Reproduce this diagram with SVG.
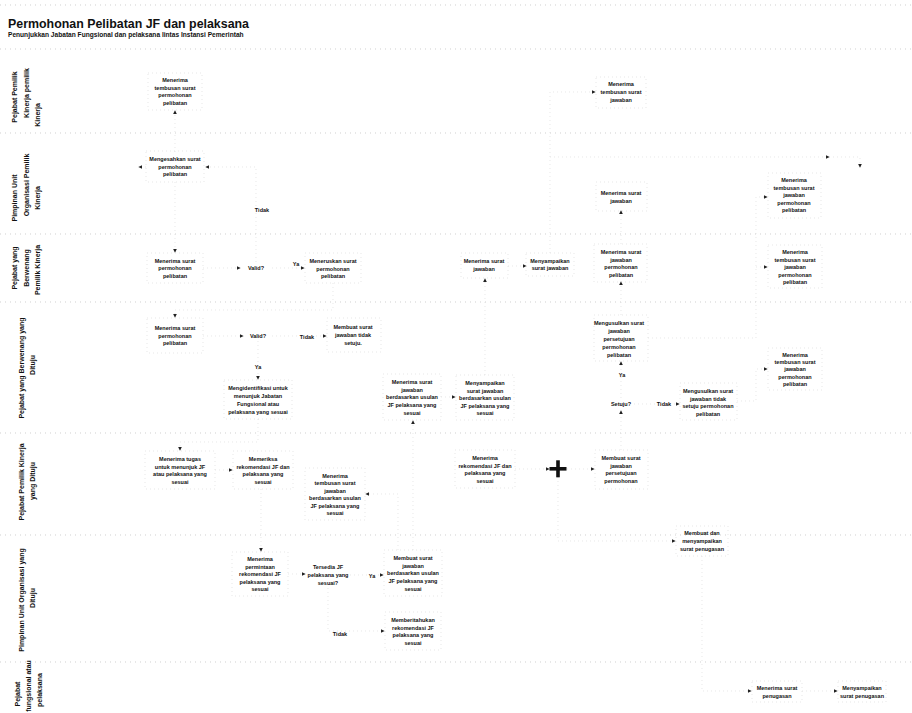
<svg xmlns="http://www.w3.org/2000/svg" width="912" height="713" viewBox="0 0 912 713">
<style>
text{font-family:"Liberation Sans",Arial,sans-serif;font-weight:bold;fill:#111}
.t{font-size:5.5px;text-anchor:middle}
.lbl{font-size:5.5px;text-anchor:middle}
.lane{font-size:7px;text-anchor:middle}
.sep{stroke:#bcbcbc;stroke-width:0.7;stroke-dasharray:1 4;fill:none}
.box{fill:none;stroke:#d6d6d6;stroke-width:0.6;stroke-dasharray:1 3}
.c{fill:none;stroke:#d8d8d8;stroke-width:0.6;stroke-dasharray:1 3;marker-end:url(#ah)}
</style>
<defs>
<marker id="ah" viewBox="0 0 6 6" refX="5" refY="3" markerWidth="4" markerHeight="4" markerUnits="userSpaceOnUse" orient="auto"><path d="M0,0 L6,3 L0,6 z" fill="#222"/></marker>
</defs>
<rect width="912" height="713" fill="#fff"/>
<g id="header">
<text x="8" y="27.5" font-size="12.4">Permohonan Pelibatan JF dan pelaksana</text>
<text x="8" y="37" font-size="6.6">Penunjukkan Jabatan Fungsional dan pelaksana lintas Instansi Pemerintah</text>
</g>
<g id="lanes">
<line class="sep" x1="0" y1="5" x2="912" y2="5"/>
<line class="sep" x1="0" y1="49" x2="912" y2="49"/>
<line class="sep" x1="0" y1="133" x2="912" y2="133"/>
<line class="sep" x1="0" y1="234" x2="912" y2="234"/>
<line class="sep" x1="0" y1="302" x2="912" y2="302"/>
<line class="sep" x1="0" y1="433" x2="912" y2="433"/>
<line class="sep" x1="0" y1="535" x2="912" y2="535"/>
<line class="sep" x1="0" y1="662" x2="912" y2="662"/>
<g id="lane1"><text class="lane" transform="translate(17,97) rotate(-90)">Pejabat Pemilik</text><text class="lane" transform="translate(29,93) rotate(-90)">Kinerja pemilik</text><text class="lane" transform="translate(40,115) rotate(-90)">Kinerja</text></g>
<g id="lane2"><text class="lane" transform="translate(17,198) rotate(-90)">Pimpinan Unit</text><text class="lane" transform="translate(29,185) rotate(-90)">Organisasi Pemilik</text><text class="lane" transform="translate(40,198) rotate(-90)">Kinerja</text></g>
<g id="lane3"><text class="lane" transform="translate(17,268) rotate(-90)">Pejabat yang</text><text class="lane" transform="translate(29,268) rotate(-90)">Berwenang</text><text class="lane" transform="translate(40,270) rotate(-90)">Pemilik Kinerja</text></g>
<g id="lane4"><text class="lane" transform="translate(24,368) rotate(-90)">Pejabat yang Berwenang yang</text><text class="lane" transform="translate(35,365) rotate(-90)">Dituju</text></g>
<g id="lane5"><text class="lane" transform="translate(24,482) rotate(-90)">Pejabat Pemilik Kinerja</text><text class="lane" transform="translate(35,481) rotate(-90)">yang Dituju</text></g>
<g id="lane6"><text class="lane" transform="translate(24,600) rotate(-90)">Pimpinan Unit Organisasi yang</text><text class="lane" transform="translate(35,598) rotate(-90)">Dituju</text></g>
<g id="lane7"><text class="lane" transform="translate(20,694) rotate(-90)">Pejabat</text><text class="lane" font-size="6.6" transform="translate(31,686) rotate(-90)">fungsional atau</text><text class="lane" transform="translate(42,690) rotate(-90)">pelaksana</text></g>
</g>
<g id="connectors">
<path class="c" d="M175 152 V111"/>
<path class="c" d="M146 167 H139"/>
<path class="c" d="M175 182 V252"/>
<path class="c" d="M203 268 H240"/>
<path class="c" d="M272 268 H304"/>
<path class="c" d="M256 262 V167 H206"/>
<path class="c" d="M333 283 V310 H175 V317"/>
<path class="c" d="M203 336 H243"/>
<path class="c" d="M272 336 H326"/>
<path class="c" d="M258 341 V379"/>
<path class="c" d="M258 419 V442 H180 V450"/>
<path class="c" d="M215 470 H232"/>
<path class="c" d="M261 489 V551"/>
<path class="c" d="M288 574 H305"/>
<path class="c" d="M350 575 H383"/>
<path class="c" d="M328 588 V631 H384"/>
<path class="c" d="M413 550 V421"/>
<path class="c" d="M398 550 V494 H366"/>
<path class="c" d="M441 397 H455"/>
<path class="c" d="M485 375 V279"/>
<path class="c" d="M508 266 H526"/>
<path class="c" d="M550 253 V157 H829"/>
<path class="c" d="M550 157 V92 H595"/>
<path class="c" d="M515 469 H549"/>
<path class="c" d="M567 469 H594"/>
<path class="c" d="M558 477 V541 H675"/>
<path class="c" d="M621 450 V411"/>
<path class="c" d="M621 398 V362"/>
<path class="c" d="M634 404 H679"/>
<path class="c" d="M621 315 V282"/>
<path class="c" d="M621 244 V211"/>
<path class="c" d="M648 338 H756 V197 H767"/>
<path class="c" d="M756 267 H767"/>
<path class="c" d="M737 401 H756 V369 H767"/>
<path class="c" d="M829 157 H860 V167"/>
<path class="c" d="M702 556 V691 H751"/>
<path class="c" d="M802 691 H837"/>
</g>
<g id="n1"><rect class="box" x="148" y="73" width="54" height="37"/><text class="t" x="175" y="82">Menerima<tspan x="175" dy="7.5">tembusan surat</tspan><tspan x="175" dy="7.5">permohonan</tspan><tspan x="175" dy="7.5">pelibatan</tspan></text></g>
<g id="n2"><rect class="box" x="596" y="77" width="50" height="31"/><text class="t" x="621" y="86">Menerima<tspan x="621" dy="7.8">tembusan surat</tspan><tspan x="621" dy="7.8">jawaban</tspan></text></g>
<g id="n3"><rect class="box" x="146" y="151" width="58" height="31"/><text class="t" x="175" y="161">Mengesahkan surat<tspan x="175" dy="7.6">permohonan</tspan><tspan x="175" dy="7.6">pelibatan</tspan></text></g>
<g id="g_tidak1"><text class="lbl" x="262" y="212">Tidak</text></g>
<g id="n5"><rect class="box" x="596" y="182" width="51" height="29"/><text class="t" x="621" y="195">Menerima surat<tspan x="621" dy="8">jawaban</tspan></text></g>
<g id="n6"><rect class="box" x="768" y="173" width="53" height="45"/><text class="t" x="794" y="182">Menerima<tspan x="794" dy="7.6">tembusan surat</tspan><tspan x="794" dy="7.6">jawaban</tspan><tspan x="794" dy="7.6">permohonan</tspan><tspan x="794" dy="7.6">pelibatan</tspan></text></g>
<g id="n7"><rect class="box" x="147" y="253" width="56" height="30"/><text class="t" x="175" y="263">Menerima surat<tspan x="175" dy="7.3">permohonan</tspan><tspan x="175" dy="7.3">pelibatan</tspan></text></g>
<g id="g_valid1"><text class="lbl" x="256" y="270">Valid?</text><text class="lbl" x="296" y="266">Ya</text></g>
<g id="n8"><rect class="box" x="305" y="253" width="56" height="30"/><text class="t" x="333" y="263">Meneruskan surat<tspan x="333" dy="7.5">permohonan</tspan><tspan x="333" dy="7.5">pelibatan</tspan></text></g>
<g id="n9"><rect class="box" x="461" y="253" width="47" height="25"/><text class="t" x="484" y="263">Menerima surat<tspan x="484" dy="7.6">jawaban</tspan></text></g>
<g id="n10"><rect class="box" x="526" y="253" width="48" height="23"/><text class="t" x="550" y="263">Menyampaikan<tspan x="550" dy="6.8">surat jawaban</tspan></text></g>
<g id="n11"><rect class="box" x="594" y="244" width="53" height="38"/><text class="t" x="621" y="254">Menerima surat<tspan x="621" dy="7.6">jawaban</tspan><tspan x="621" dy="7.6">permohonan</tspan><tspan x="621" dy="7.6">pelibatan</tspan></text></g>
<g id="n12"><rect class="box" x="768" y="245" width="54" height="43"/><text class="t" x="795" y="254">Menerima<tspan x="795" dy="7.5">tembusan surat</tspan><tspan x="795" dy="7.5">jawaban</tspan><tspan x="795" dy="7.5">permohonan</tspan><tspan x="795" dy="7.5">pelibatan</tspan></text></g>
<g id="n13"><rect class="box" x="147" y="318" width="56" height="35"/><text class="t" x="175" y="330">Menerima surat<tspan x="175" dy="7.5">permohonan</tspan><tspan x="175" dy="7.5">pelibatan</tspan></text></g>
<g id="g_valid2"><text class="lbl" x="258" y="338">Valid?</text><text class="lbl" x="307" y="339">Tidak</text><text class="lbl" x="258" y="369">Ya</text></g>
<g id="n14"><rect class="box" x="327" y="318" width="54" height="34"/><text class="t" x="353" y="329">Membuat surat<tspan x="353" dy="8">jawaban tidak</tspan><tspan x="353" dy="8">setuju.</tspan></text></g>
<g id="n15"><rect class="box" x="224" y="380" width="68" height="39"/><text class="t" x="258" y="390">Mengidentifikasi untuk<tspan x="258" dy="8">menunjuk Jabatan</tspan><tspan x="258" dy="8">Fungsional atau</tspan><tspan x="258" dy="8">pelaksana yang sesuai</tspan></text></g>
<g id="n16"><rect class="box" x="383" y="374" width="58" height="46"/><text class="t" x="412" y="384">Menerima surat<tspan x="412" dy="7.7">jawaban</tspan><tspan x="412" dy="7.7">berdasarkan usulan</tspan><tspan x="412" dy="7.7">JF pelaksana yang</tspan><tspan x="412" dy="7.7">sesuai</tspan></text></g>
<g id="n17"><rect class="box" x="456" y="375" width="58" height="45"/><text class="t" x="485" y="385">Menyampaikan<tspan x="485" dy="7.5">surat jawaban</tspan><tspan x="485" dy="7.5">berdasarkan usulan</tspan><tspan x="485" dy="7.5">JF pelaksana yang</tspan><tspan x="485" dy="7.5">sesuai</tspan></text></g>
<g id="n18"><rect class="box" x="594" y="315" width="54" height="46"/><text class="t" x="619" y="325">Mengusulkan surat<tspan x="619" dy="8">jawaban</tspan><tspan x="619" dy="8">persetujuan</tspan><tspan x="619" dy="8">permohonan</tspan><tspan x="619" dy="8">pelibatan</tspan></text></g>
<g id="g_setuju"><text class="lbl" x="622" y="377">Ya</text><text class="lbl" x="621" y="406">Setuju?</text><text class="lbl" x="664" y="406">Tidak</text></g>
<g id="n19"><rect class="box" x="680" y="383" width="57" height="37"/><text class="t" x="708" y="393">Mengusulkan surat<tspan x="708" dy="7.7">jawaban tidak</tspan><tspan x="708" dy="7.7">setuju permohonan</tspan><tspan x="708" dy="7.7">pelibatan</tspan></text></g>
<g id="n20"><rect class="box" x="768" y="348" width="54" height="42"/><text class="t" x="795" y="357">Menerima<tspan x="795" dy="7.2">tembusan surat</tspan><tspan x="795" dy="7.2">jawaban</tspan><tspan x="795" dy="7.2">permohonan</tspan><tspan x="795" dy="7.2">pelibatan</tspan></text></g>
<g id="n21"><rect class="box" x="145" y="451" width="70" height="38"/><text class="t" x="180" y="461">Menerima tugas<tspan x="180" dy="7.6">untuk menunjuk JF</tspan><tspan x="180" dy="7.6">atau pelaksana yang</tspan><tspan x="180" dy="7.6">sesuai</tspan></text></g>
<g id="n22"><rect class="box" x="233" y="451" width="60" height="38"/><text class="t" x="263" y="461">Memeriksa<tspan x="263" dy="7.6">rekomendasi JF dan</tspan><tspan x="263" dy="7.6">pelaksana yang</tspan><tspan x="263" dy="7.6">sesuai</tspan></text></g>
<g id="n23"><rect class="box" x="305" y="468" width="60" height="52"/><text class="t" x="335" y="478">Menerima<tspan x="335" dy="7.4">tembusan surat</tspan><tspan x="335" dy="7.4">jawaban</tspan><tspan x="335" dy="7.4">berdasarkan usulan</tspan><tspan x="335" dy="7.4">JF pelaksana yang</tspan><tspan x="335" dy="7.4">sesuai</tspan></text></g>
<g id="n24"><rect class="box" x="455" y="450" width="60" height="38"/><text class="t" x="485" y="460">Menerima<tspan x="485" dy="7.6">rekomendasi JF dan</tspan><tspan x="485" dy="7.6">pelaksana yang</tspan><tspan x="485" dy="7.6">sesuai</tspan></text></g>
<g id="plus"><rect x="549.5" y="467" width="17" height="3.6" fill="#111"/><rect x="556.2" y="460.3" width="3.6" height="17" fill="#111"/></g>
<g id="n25"><rect class="box" x="595" y="450" width="53" height="39"/><text class="t" x="621" y="460">Membuat surat<tspan x="621" dy="7.7">jawaban</tspan><tspan x="621" dy="7.7">persetujuan</tspan><tspan x="621" dy="7.7">permohonan</tspan></text></g>
<g id="n26"><rect class="box" x="232" y="552" width="56" height="44"/><text class="t" x="260" y="561">Menerima<tspan x="260" dy="7.6">permintaan</tspan><tspan x="260" dy="7.6">rekomendasi JF</tspan><tspan x="260" dy="7.6">pelaksana yang</tspan><tspan x="260" dy="7.6">sesuai</tspan></text></g>
<g id="g_tersedia"><text class="lbl" x="328" y="569">Tersedia JF<tspan x="328" dy="8">pelaksana yang</tspan><tspan x="328" dy="8">sesuai?</tspan></text><text class="lbl" x="372" y="578">Ya</text><text class="lbl" x="340" y="636">Tidak</text></g>
<g id="n28"><rect class="box" x="384" y="550" width="58" height="46"/><text class="t" x="413" y="560">Membuat surat<tspan x="413" dy="7.7">jawaban</tspan><tspan x="413" dy="7.7">berdasarkan usulan</tspan><tspan x="413" dy="7.7">JF pelaksana yang</tspan><tspan x="413" dy="7.7">sesuai</tspan></text></g>
<g id="n29"><rect class="box" x="385" y="612" width="56" height="38"/><text class="t" x="413" y="622">Memberitahukan<tspan x="413" dy="7.6">rekomendasi JF</tspan><tspan x="413" dy="7.6">pelaksana yang</tspan><tspan x="413" dy="7.6">sesuai</tspan></text></g>
<g id="n30"><rect class="box" x="676" y="526" width="52" height="30"/><text class="t" x="702" y="535">Membuat dan<tspan x="702" dy="8">menyampaikan</tspan><tspan x="702" dy="8">surat penugasan</tspan></text></g>
<g id="n31"><rect class="box" x="752" y="681" width="50" height="21"/><text class="t" x="777" y="690">Menerima surat<tspan x="777" dy="7.5">penugasan</tspan></text></g>
<g id="n32"><rect class="box" x="838" y="681" width="48" height="21"/><text class="t" x="862" y="690">Menyampaikan<tspan x="862" dy="7.5">surat penugasan</tspan></text></g>
</svg>
